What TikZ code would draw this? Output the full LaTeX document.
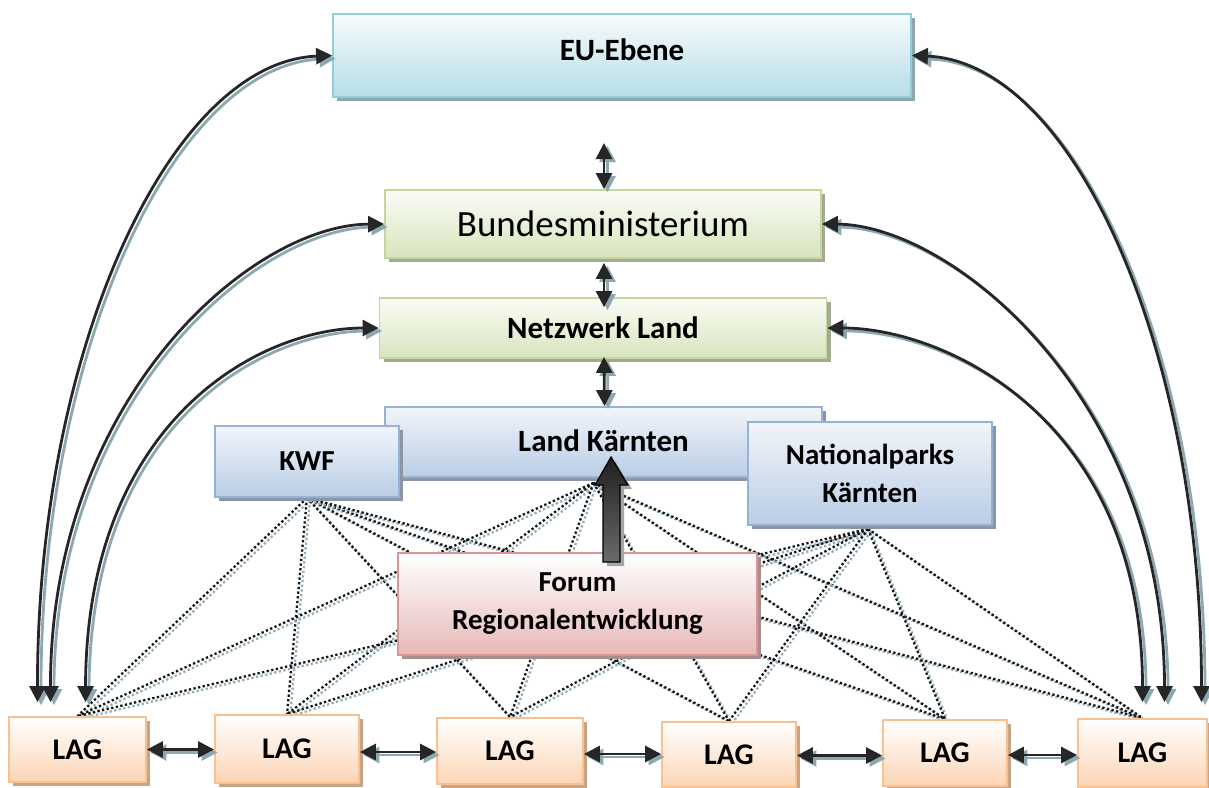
\documentclass[tikz,border=0pt]{standalone}
\usepackage{fontspec}
\setmainfont{Carlito}
\usetikzlibrary{arrows.meta,shadows,calc}
\pgfdeclarelayer{bg}
\pgfsetlayers{bg,main}
\definecolor{arrc}{HTML}{262626}
\definecolor{arrsh}{HTML}{8CA8B1}
\definecolor{dotc}{HTML}{141414}
\definecolor{dotshc}{HTML}{93AFB9}
\definecolor{euT}{HTML}{F7FBFC}
\definecolor{euBot}{HTML}{B6DDE8}
\definecolor{euB}{HTML}{92CDDC}
\definecolor{euS}{HTML}{8FA6AE}
\definecolor{grT}{HTML}{FBFCF6}
\definecolor{grBot}{HTML}{D7E4BD}
\definecolor{grB}{HTML}{C3D69B}
\definecolor{grS}{HTML}{A4A993}
\definecolor{blT}{HTML}{F2F5FA}
\definecolor{blBot}{HTML}{B9CDE5}
\definecolor{blB}{HTML}{95B3D7}
\definecolor{blS}{HTML}{8A95A5}
\definecolor{foT}{HTML}{FFFFFF}
\definecolor{foBot}{HTML}{E6B9B8}
\definecolor{foB}{HTML}{D99694}
\definecolor{foS}{HTML}{A98D8D}
\definecolor{laT}{HTML}{FFFFFF}
\definecolor{laBot}{HTML}{FCD5B5}
\definecolor{laB}{HTML}{FAC090}
\definecolor{laS}{HTML}{C9A484}
\newcommand\shconn[1]{\draw[connsh] #1;\draw[conn] #1;}
\newcommand\shdot[1]{\draw[dotsh] #1;\draw[dotline] #1;}
\tikzset{
  box/.style={rectangle, line width=1.8pt, inner sep=0pt, align=center, text=black},
  eubox/.style={box, draw=euB, top color=euT, bottom color=euBot,
    drop shadow={shadow xshift=4pt, shadow yshift=-4pt, fill=euS, opacity=1}},
  grbox/.style={box, draw=grB, top color=grT, bottom color=grBot,
    drop shadow={shadow xshift=4pt, shadow yshift=-4pt, fill=grS, opacity=1}},
  blbox/.style={box, draw=blB, top color=blT, bottom color=blBot,
    drop shadow={shadow xshift=4pt, shadow yshift=-4pt, fill=blS, opacity=1}},
  fobox/.style={box, draw=foB, top color=foT, bottom color=foBot,
    drop shadow={shadow xshift=4pt, shadow yshift=-4pt, fill=foS, opacity=1}},
  labox/.style={box, draw=laB, top color=laT, bottom color=laBot,
    drop shadow={shadow xshift=4pt, shadow yshift=-4pt, fill=laS, opacity=1},
    font=\bfseries\fontsize{30}{36}\selectfont, text=black},
  tip/.tip={Triangle[length=16pt,width=16pt]},
  conn/.style={arrc, line width=2.8pt, tip-tip},
  connsh/.style={arrsh, line width=2.8pt, tip-tip, transform canvas={shift={(3.5pt,-3pt)}}},
  dotline/.style={dotc, line width=2.3pt, dash pattern=on 2.3pt off 2.4pt},
  dotsh/.style={dotshc, line width=2.3pt, dash pattern=on 2.3pt off 2.4pt, transform canvas={shift={(3pt,-2.5pt)}}},
  bold31/.style={font=\bfseries\fontsize{31}{37}\selectfont},
  bold29/.style={font=\bfseries\fontsize{29}{38}\selectfont},
}
\begin{document}
\begin{tikzpicture}[x=1pt,y=-1pt]
\useasboundingbox (0,0) rectangle (1209,787);

% boxes
\node[eubox, bold31, minimum width=578, minimum height=83] (eu) at (622,55.5) {\raisebox{11pt}{EU-Ebene}};
\node[grbox, font=\fontsize{37}{44}\selectfont, minimum width=436, minimum height=68] (bm) at (603,224) {Bundesministerium};
\node[grbox, bold31, minimum width=447, minimum height=60] (nl) at (603,328) {Netzwerk Land};
\node[blbox, bold31, minimum width=437, minimum height=70] (lk) at (603.5,442) {\raisebox{3pt}{Land Kärnten}};
\node[blbox, bold29, minimum width=184, minimum height=71] (kwf) at (307,461.5) {KWF};
\node[blbox, bold29, minimum width=244, minimum height=103] (np) at (870,473.5) {Nationalparks\\Kärnten};

\node[labox, minimum width=137, minimum height=65] (lag1) at (77.5,749.5) {LAG};
\node[labox, minimum width=144, minimum height=68] (lag2) at (287,749) {LAG};
\node[labox, minimum width=146, minimum height=66] (lag3) at (510,751) {LAG};
\node[labox, minimum width=134, minimum height=65] (lag4) at (729,754.5) {LAG};
\node[labox, minimum width=124, minimum height=66] (lag5) at (945,753) {LAG};
\node[labox, minimum width=129, minimum height=68] (lag6) at (1142.5,753) {LAG};

% apex points of the dotted network
\coordinate (kwfa) at (kwf.south);
\coordinate (lka) at ($(lk.south)+(-10,5)$);
\coordinate (npa) at ($(np.south)+(-2,3)$);

\begin{pgfonlayer}{bg}
  \fill[white] (0,0) rectangle (1209,787);
  \foreach \a in {kwfa,lka,npa}{
    \foreach \l in {lag1,lag2,lag3,lag4,lag5,lag6}{
      \shdot{(\a) -- (\l.north)}
    }
  }
\end{pgfonlayer}

% forum box on top of dotted lines
\node[fobox, bold29, minimum width=359, minimum height=102] (fo) at (577.5,604) {Forum\\Regionalentwicklung};

% big block arrow from Forum to Land Kaernten
\coordinate (bt) at (611,457);
\fill[gray!70, transform canvas={shift={(4pt,-4pt)}}]
  (bt) -- ++(17,28) -- ++(-8,0) -- ++(0,77) -- ++(-17,0) -- ++(0,-77) -- ++(-8,0) -- cycle;
\path[draw=black, line width=1.2pt, top color=black!88, middle color=black, bottom color=black!58]
  (bt) -- ++(17,28) -- ++(-8,0) -- ++(0,77) -- ++(-17,0) -- ++(0,-77) -- ++(-8,0) -- cycle;

% vertical arrows
\coordinate (v1) at (604,143);
\shconn{(v1) -- (v1 |- bm.north)}
\shconn{([xshift=1pt,yshift=-4pt]bm.south) -- ([xshift=1pt,yshift=-10pt]nl.north)}
\shconn{([xshift=1pt,yshift=2pt]nl.south) -- ([xshift=1pt]lk.north)}

% curved arrows to the LAG ends
\coordinate (l1a) at ($(lag1.north)+(-40,-14)$);
\coordinate (l1b) at ($(lag1.north)+(-27,-14)$);
\coordinate (l1c) at ($(lag1.north)+(8,-14)$);
\coordinate (l6a) at ($(lag6.north)+(59,-16)$);
\coordinate (l6b) at ($(lag6.north)+(22,-16)$);
\coordinate (l6c) at ($(lag6.north)+(0,-16)$);

\shconn{(eu.west) .. controls (170,62) and (37,350) .. (l1a)}
\shconn{(bm.west) .. controls (250,225) and (50,400) .. (l1b)}
\shconn{(nl.west) .. controls (260,328) and (86,420) .. (l1c)}
\shconn{(eu.east) .. controls (1074,62) and (1201.5,350) .. (l6a)}
\shconn{(bm.east) .. controls (953,225) and (1164.5,400) .. (l6b)}
\shconn{(nl.east) .. controls (946,328) and (1142.5,420) .. (l6c)}

% horizontal arrows between LAGs
\shconn{(lag1.east) -- (lag1.east -| lag2.west)}
\shconn{([yshift=-3pt]lag2.east) -- ([yshift=-3pt]lag2.east -| lag3.west)}
\shconn{([yshift=-3pt]lag3.east) -- ([yshift=-3pt]lag3.east -| lag4.west)}
\shconn{([yshift=-1pt]lag4.east) -- ([yshift=-1pt]lag4.east -| lag5.west)}
\shconn{([yshift=-2pt]lag5.east) -- ([yshift=-2pt]lag5.east -| lag6.west)}
\end{tikzpicture}
\end{document}
